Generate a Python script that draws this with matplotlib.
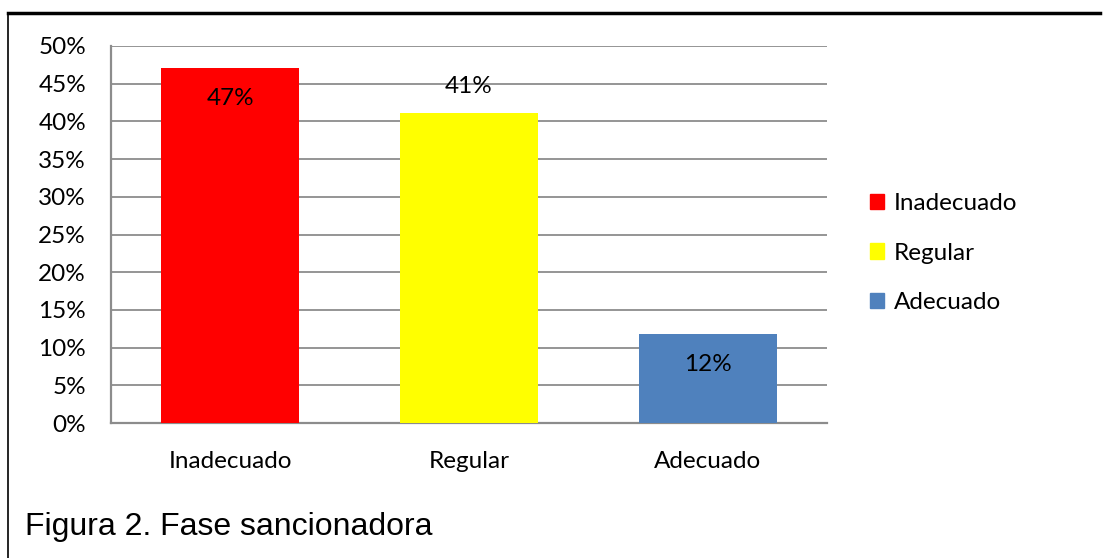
import matplotlib
matplotlib.use("Agg")
import matplotlib.pyplot as plt
from matplotlib.lines import Line2D
from matplotlib.ticker import FuncFormatter, MultipleLocator

categories = ["Inadecuado", "Regular", "Adecuado"]
values = [47.06, 41.18, 11.76]
labels = ["47%", "41%", "12%"]
colors = ["#FF0000", "#FFFF00", "#4F81BD"]
title = "Figura 2. Fase sancionadora"

W, H = 1104, 558
fig = plt.figure(figsize=(W / 100, H / 100), dpi=100)
ax = fig.add_axes([111 / W, 1 - 423 / H, (827 - 111) / W, (423 - 46) / H])

font = "Lato"
fs = 17.5
x = range(len(categories))
bars = ax.bar(x, values, width=0.578, color=colors, zorder=3)

ax.set_xlim(-0.5, 2.5)
ax.set_ylim(0, 50)
ax.yaxis.set_major_locator(MultipleLocator(5))
ax.yaxis.set_major_formatter(FuncFormatter(lambda v, p: f"{int(round(v))}%"))
ax.grid(axis="y", color="#8C8C8C", linewidth=1.3, zorder=0)
for s in ["top", "right"]:
    ax.spines[s].set_visible(False)
for s in ["left", "bottom"]:
    ax.spines[s].set_color("#8C8C8C")
    ax.spines[s].set_linewidth(1.6)
ax.tick_params(axis="both", length=0, labelsize=fs)
ax.tick_params(axis="y", pad=18)
ax.tick_params(axis="x", pad=20)
ax.set_xticks(list(x))
ax.set_xticklabels(categories, fontfamily=font)
for t in ax.get_yticklabels():
    t.set_fontfamily(font)

# data labels (Excel-like placement)
offsets = [-22, 19, -22]
for i, (b, lab) in enumerate(zip(bars, labels)):
    ax.annotate(lab, (b.get_x() + b.get_width() / 2, b.get_height()),
                xytext=(0, offsets[i]), textcoords="offset points",
                ha="center", va="center", fontsize=fs, fontfamily=font, zorder=5)

handles = [plt.Rectangle((0, 0), 1, 1, color=c) for c in colors]
fig.legend(handles, categories, loc="center left",
           bbox_to_anchor=(860 / W, 1 - 253 / H),
           frameon=False, prop={"family": font, "size": fs},
           handlelength=0.6, handleheight=0.6, handletextpad=0.4,
           labelspacing=1.18, borderaxespad=0)

fig.text(25 / W, 1 - 527 / H, title, fontsize=23, fontfamily="Liberation Sans",
         ha="left", va="center")

# outer frame lines
fig.add_artist(Line2D([8 / W, 1100 / W], [1 - 13 / H, 1 - 13 / H],
                      color="black", linewidth=2.5, transform=fig.transFigure))
fig.add_artist(Line2D([8 / W, 8 / W], [1 - 13 / H, 0],
                      color="black", linewidth=1.2, transform=fig.transFigure))

fig.savefig("out.png", dpi=100)
